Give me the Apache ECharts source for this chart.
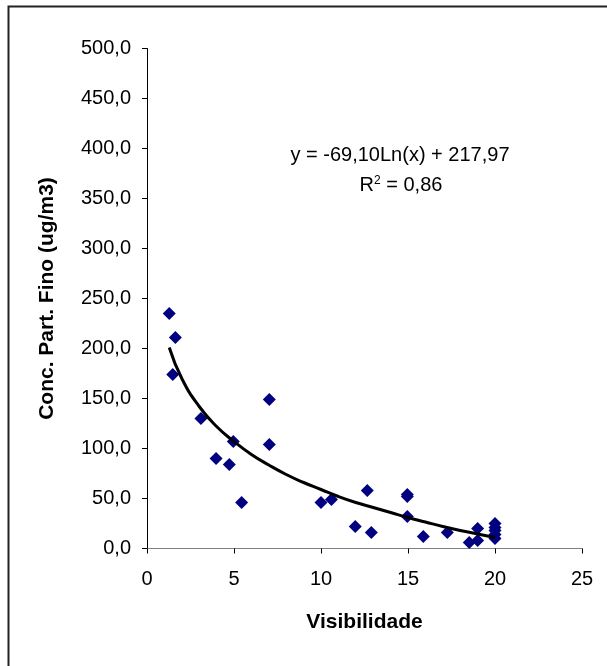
<!DOCTYPE html>
<html><head><meta charset="utf-8">
<script src="https://cdn.jsdelivr.net/npm/echarts@6/dist/echarts.min.js"></script>
<style>html,body{margin:0;padding:0;background:#fff}#c{width:607px;height:666px}</style>
</head><body><div id="c"></div>
<script>
// Observed points (Visibilidade, Conc. Part. Fino)
const visX = [1.28, 1.63, 1.48, 3.10, 3.97, 4.73, 4.96, 5.44, 7.03, 7.03, 10.0, 10.6, 11.97, 12.66, 12.89, 14.96, 14.96, 14.96, 15.88, 17.26, 18.52, 19.0, 19.0, 20.0, 20.0, 20.0, 20.0, 20.0];
const concY = [235, 211, 174, 130, 90, 84, 107, 46, 149, 104, 46, 49, 22, 58, 16, 54, 52, 32, 12, 16, 6, 20, 8, 25, 21, 18, 14, 10];
// Logarithmic trend line as drawn in the chart
const trendX = [1.28, 2, 3, 4, 5, 6, 7, 8, 9, 10, 11, 12, 13, 14, 15, 16, 17, 18, 19, 20];
const trendY = [201, 170, 142, 122, 107, 94, 83.5, 74, 66, 59, 52, 46, 41, 36, 31, 26.5, 22, 18, 14.5, 11];
const xTicks = [0, 5, 10, 15, 20, 25];
const yTicks = [0, 50, 100, 150, 200, 250, 300, 350, 400, 450, 500];
const eqLine1 = 'y = -69,10Ln(x) + 217,97';
const eqLine2 = 'R{s|2} = 0,86';

const chart = echarts.init(document.getElementById('c'), null, {renderer: 'canvas'});
const font = 'Liberation Sans, Arial, sans-serif';
chart.setOption({
  animation: false,
  backgroundColor: '#fff',
  grid: {left: 147, top: 48.5, width: 435, height: 500},
  xAxis: {
    type: 'value', min: xTicks[0], max: xTicks[xTicks.length-1], interval: 5,
    axisLine: {onZero: false, lineStyle: {color: '#808080', width: 1}},
    axisTick: {show: true, inside: false, length: 5, lineStyle: {color: '#000'}},
    splitLine: {show: false},
    axisLabel: {margin: 21, fontSize: 20, color: '#000', fontFamily: font},
    name: 'Visibilidade', nameLocation: 'middle', nameGap: 63,
    nameTextStyle: {fontSize: 21, fontWeight: 'bold', color: '#000', fontFamily: font}
  },
  yAxis: {
    type: 'value', min: yTicks[0], max: yTicks[yTicks.length-1], interval: 50,
    axisLine: {show: true, lineStyle: {color: '#000', width: 1}},
    axisTick: {show: true, inside: false, length: 5, lineStyle: {color: '#000'}},
    splitLine: {show: false},
    axisLabel: {margin: 16, fontSize: 20, color: '#000', fontFamily: font,
      formatter: v => v.toFixed(1).replace('.', ',')},
    name: 'Conc. Part. Fino (ug/m3)', nameLocation: 'middle', nameGap: 89, nameRotate: 90,
    nameTextStyle: {fontSize: 21, fontWeight: 'bold', color: '#000', fontFamily: font}
  },
  series: [
    {
      type: 'scatter', symbol: 'diamond', symbolSize: 13,
      itemStyle: {color: '#000080', opacity: 1},
      data: visX.map((x, i) => [x, concY[i]]), z: 2
    },
    {
      type: 'line', showSymbol: false, smooth: true,
      lineStyle: {color: '#000', width: 3},
      data: trendX.map((x, i) => [x, trendY[i]]), z: 3
    }
  ],
  graphic: [
    {type: 'rect', shape: {x: 8.5, y: 6.5, width: 640, height: 700}, style: {fill: 'none', stroke: '#222', lineWidth: 2}, silent: true},
    {type: 'text', x: 400, y: 155, style: {text: eqLine1, font: '20px ' + font, fill: '#000', align: 'center', verticalAlign: 'middle'}},
    {type: 'text', x: 401, y: 185, style: {text: eqLine2, font: '20px ' + font, fill: '#000', align: 'center', verticalAlign: 'middle',
      rich: {s: {fontSize: 12, verticalAlign: 'top', padding: [0, 0, 8, 0], fontFamily: font}}}}
  ]
});
</script></body></html>
